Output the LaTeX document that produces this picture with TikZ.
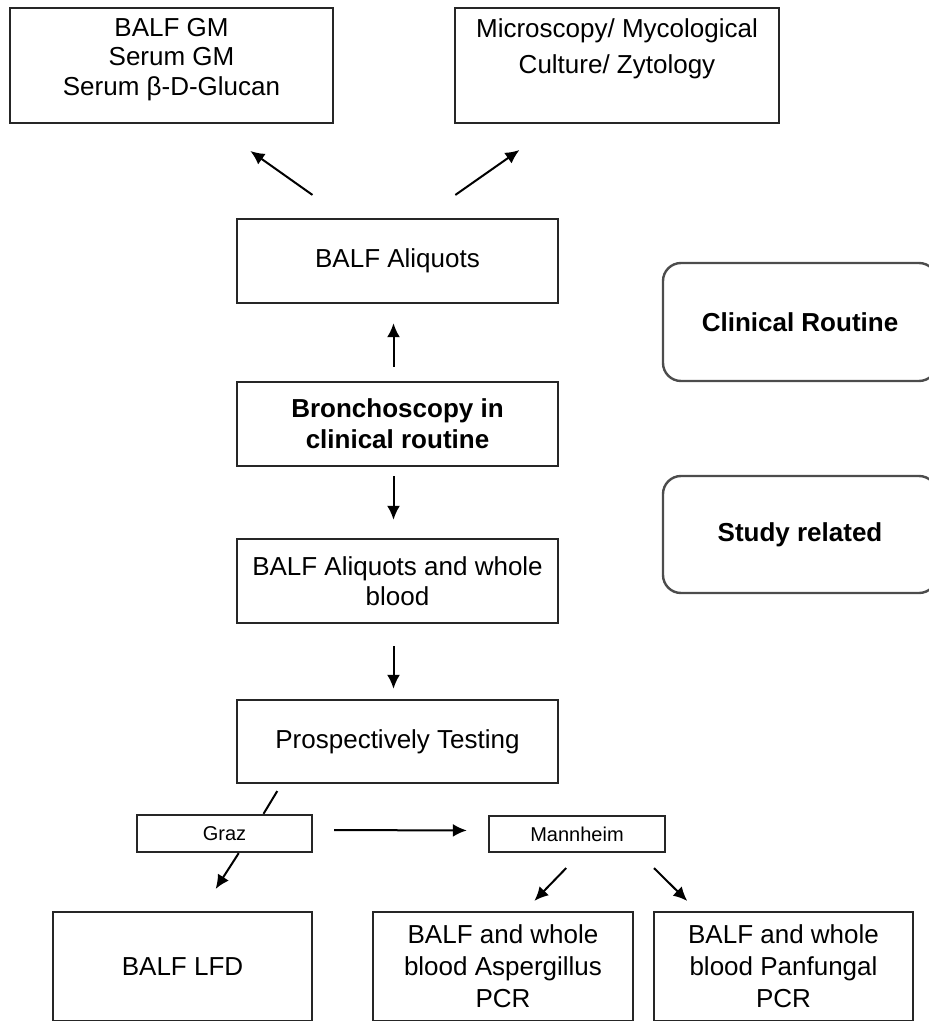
\documentclass[tikz,border=0pt]{standalone}
\usepackage{fontspec}
\setmainfont{Liberation Sans}
\usetikzlibrary{arrows.meta,positioning,calc}

\begin{document}
\begin{tikzpicture}[
  x=0.5pt, y=-0.5pt,
  box/.style={draw=black!85, line width=1.2pt, align=center, inner sep=2pt,
              font=\fontsize{13pt}{15pt}\selectfont},
  boxtext/.style={align=center, inner sep=0pt},
  phase/.style={box, draw=black!70, rounded corners=9pt,
                font=\fontsize{13pt}{15pt}\selectfont\bfseries},
  site/.style={box, font=\fontsize{10pt}{12pt}\selectfont},
  arrow/.style={-{Latex[length=7pt,width=6.5pt]}, line width=1pt, black},
  link/.style={line width=1pt, black}
]
\clip (0,0) rectangle (929,1021);
% top row, text sits high in the frame
\node[box, minimum width=161.5pt, minimum height=57.5pt] (gm) at (171.5,65.5) {};
\node[boxtext, font=\fontsize{13pt}{14.75pt}\selectfont] (gmtext) at ([yshift=3pt]gm.center)
  {BALF GM\\Serum GM\\Serum β-D-Glucan};
\node[box, minimum width=162pt, minimum height=57.5pt] (micro) at (617,65.5) {};
\node[boxtext, font=\fontsize{13pt}{18pt}\selectfont] (microtext) at ([yshift=8.25pt]micro.center)
  {Microscopy/ Mycological\\Culture/ Zytology};
% main column
\node[box, minimum width=160.5pt, minimum height=42pt] (aliquots) at (397.5,261)
  {BALF Aliquots};
\node[box, minimum width=160.5pt, minimum height=42pt,
      font=\fontsize{13pt}{15.5pt}\selectfont\bfseries] (bronch) at (397.5,424)
  {Bronchoscopy in\\clinical routine};
\node[box, minimum width=160.5pt, minimum height=42pt] (blood) at (397.5,581)
  {BALF Aliquots and whole\\blood};
\node[box, minimum width=160.5pt, minimum height=41.5pt] (prosp) at (397.5,741.5)
  {Prospectively Testing};
% legend
\node[phase, minimum width=137pt, minimum height=59pt] (clin) at (800,322)
  {Clinical Routine};
\node[phase, minimum width=137pt, minimum height=58.5pt] (study) at (800,534.5)
  {Study related};
% sites
\node[site, minimum width=87.5pt, minimum height=18.5pt] (graz) at (224.5,833.5) {Graz};
\node[site, minimum width=88pt, minimum height=18pt] (mann) at (577,834) {Mannheim};
% bottom row, lower edge runs into the page border
\node[box, minimum width=129.5pt, minimum height=54.5pt] (lfd) at (182.5,966.5) {BALF LFD};
\node[box, minimum width=130pt, minimum height=54.5pt,
      font=\fontsize{13pt}{16pt}\selectfont] (asp) at (503,966.5)
  {BALF and whole\\blood Aspergillus\\PCR};
\node[box, minimum width=129.5pt, minimum height=54.5pt,
      font=\fontsize{13pt}{16pt}\selectfont] (pan) at (783.5,966.5)
  {BALF and whole\\blood Panfungal\\PCR};

\draw[arrow, shorten <=19.8pt, shorten >=23.2pt]
  ($(aliquots.north west)!0.337!(aliquots.north east)$) -- ($(gm.south west)!0.626!(gm.south east)$);
\draw[arrow, shorten <=19.9pt, shorten >=22.5pt]
  ($(aliquots.north west)!0.578!(aliquots.north east)$) -- ($(micro.south west)!0.314!(micro.south east)$);
\draw[arrow, shorten <=7pt, shorten >=9.5pt] ([xshift=-2pt]bronch.north) -- ([xshift=-2pt]aliquots.south);
\draw[arrow, shorten <=4.5pt, shorten >=9pt] ([xshift=-2pt]bronch.south) -- ([xshift=-2pt]blood.north);
\draw[arrow, shorten <=11pt, shorten >=5pt] ([xshift=-2pt]blood.south) -- ([xshift=-2pt]prosp.north);
\draw[link, shorten <=4pt]
  ($(prosp.south west)!0.141!(prosp.south east)$) -- ($(graz.north west)!0.72!(graz.north east)$);
\draw[arrow, shorten <=10.5pt, shorten >=10.5pt] ([yshift=1.75pt]graz.east) -- ([yshift=1.75pt]mann.west);
\draw[arrow, shorten >=13pt]
  ($(graz.south west)!0.58!(graz.south east)$) -- ($(lfd.north west)!0.573!(lfd.north east)$);
\draw[arrow, shorten <=10.3pt, shorten >=6.9pt]
  ($(mann.south west)!0.52!(mann.south east)$) -- ($(asp.north west)!0.583!(asp.north east)$);
\draw[arrow, shorten <=10.6pt, shorten >=7pt]
  ($(mann.south west)!0.847!(mann.south east)$) -- ($(pan.north west)!0.17!(pan.north east)$);
\end{tikzpicture}
\end{document}
